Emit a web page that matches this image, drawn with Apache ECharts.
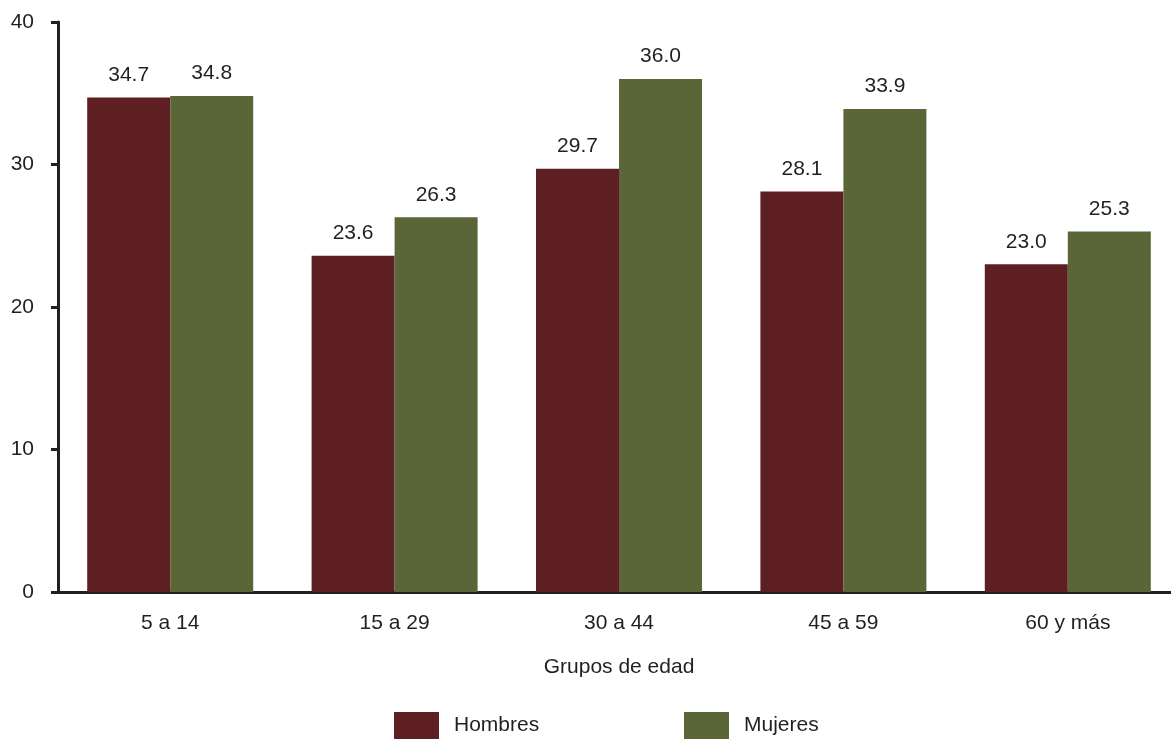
<!DOCTYPE html>
<html>
<head>
<meta charset="utf-8">
<script src="https://cdn.jsdelivr.net/npm/echarts@6/dist/echarts.min.js"></script>
<style>html,body{margin:0;padding:0;background:#fff}#c{width:1171px;height:739px}</style>
</head>
<body>
<div id="c"></div>
<script>
const categories = ['5 a 14', '15 a 29', '30 a 44', '45 a 59', '60 y más'];
const hombres = [34.7, 23.6, 29.7, 28.1, 23.0];
const mujeres = [34.8, 26.3, 36.0, 33.9, 25.3];
const yTicks = [0, 10, 20, 30, 40];
const xName = 'Grupos de edad';
const seriesNames = ['Hombres', 'Mujeres'];

const txt = '#231f20';
const font = 'Liberation Sans, Arial, sans-serif';
const chart = echarts.init(document.getElementById('c'), null, {renderer: 'canvas'});
const labelStyle = {show: true, position: 'top', distance: 12, color: txt, fontSize: 21, fontFamily: font, formatter: p => p.value.toFixed(1)};
chart.setOption({
  animation: false,
  backgroundColor: '#fff',
  grid: {left: 58, top: 22, width: 1122, height: 570, containLabel: false, outerBoundsMode: 'none'},
  legend: [
    {data: [seriesNames[0]], left: 394, top: 712, padding: 0, itemWidth: 45, itemHeight: 27, icon: 'rect',
     textStyle: {color: txt, fontSize: 21, fontFamily: font, padding: [5, 0, 0, 10]}},
    {data: [seriesNames[1]], left: 684, top: 712, padding: 0, itemWidth: 45, itemHeight: 27, icon: 'rect',
     textStyle: {color: txt, fontSize: 21, fontFamily: font, padding: [5, 0, 0, 10]}}
  ],
  xAxis: {
    type: 'category', data: categories,
    name: xName, nameLocation: 'middle', nameGap: 65,
    nameTextStyle: {color: txt, fontSize: 21, fontFamily: font},
    axisLine: {lineStyle: {color: txt, width: 3}},
    axisTick: {show: false},
    axisLabel: {color: txt, fontSize: 21, fontFamily: font, margin: 21}
  },
  yAxis: {
    type: 'value', min: yTicks[0], max: yTicks[yTicks.length - 1], interval: 10,
    axisLine: {show: true, lineStyle: {color: txt, width: 3}},
    axisTick: {show: true, length: 7, lineStyle: {color: txt, width: 3}},
    axisLabel: {color: txt, fontSize: 21, fontFamily: font, margin: 24},
    splitLine: {show: false}
  },
  series: [
    {name: seriesNames[0], type: 'bar', data: hombres, barWidth: 83, barGap: '0%', itemStyle: {color: '#5e1f23'}, label: labelStyle},
    {name: seriesNames[1], type: 'bar', data: mujeres, barWidth: 83, barGap: '0%', itemStyle: {color: '#5a6638'}, label: labelStyle}
  ]
});
</script>
</body>
</html>
